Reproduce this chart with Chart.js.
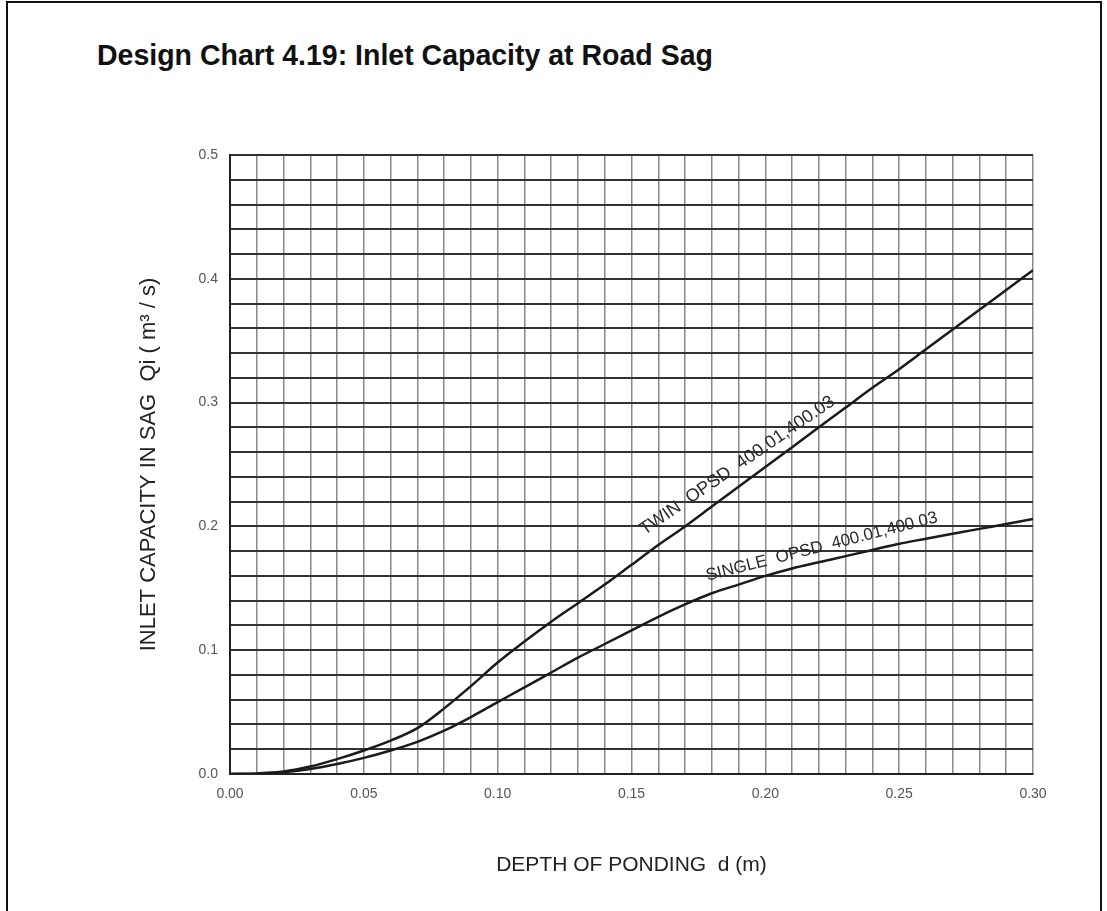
<!DOCTYPE html>
<html>
<head>
<meta charset="utf-8">
<script src="https://cdn.jsdelivr.net/npm/chart.js@4.4.1/dist/chart.umd.min.js"></script>
<style>
  html, body { margin: 0; padding: 0; background: #fff; }
  #page { position: relative; width: 1107px; height: 911px; overflow: hidden; }
  #frame {
    position: absolute; left: 6px; top: 1px; width: 1092px; height: 920px;
    border: 2px solid #111; border-bottom: none;
  }
  #title {
    position: absolute; left: 97px; top: 39px;
    font-family: "Liberation Sans", Arial, sans-serif; font-weight: bold;
    font-size: 29px; color: #111; white-space: nowrap; transform-origin: 0 0;
  }
  canvas { position: absolute; left: 0; top: 0; }
</style>
</head>
<body>
<div id="page">
  <div id="frame"></div>
  <div id="title">Design Chart 4.19: Inlet Capacity at Road Sag</div>
  <canvas id="chart" width="1107" height="911"></canvas>
</div>
<script>
// depth of ponding d (m)
const depth = [0.00, 0.01, 0.02, 0.03, 0.04, 0.05, 0.06, 0.07, 0.08, 0.09, 0.10,
  0.11, 0.12, 0.13, 0.14, 0.15, 0.16, 0.17, 0.18, 0.19, 0.20,
  0.21, 0.22, 0.23, 0.24, 0.25, 0.26, 0.27, 0.28, 0.29, 0.30];

// inlet capacity Qi (m3/s), twin grate
const twinFlow = [0, 0.0005, 0.002, 0.006, 0.012, 0.019, 0.027, 0.037, 0.053, 0.071, 0.090,
  0.107, 0.123, 0.138, 0.153, 0.169, 0.185, 0.200, 0.216, 0.232, 0.248,
  0.264, 0.280, 0.296, 0.312, 0.327, 0.343, 0.359, 0.375, 0.391, 0.407];

// inlet capacity Qi (m3/s), single grate
const singleFlow = [0, 0.0003, 0.0015, 0.004, 0.008, 0.013, 0.019, 0.026, 0.035, 0.046, 0.058,
  0.070, 0.082, 0.094, 0.105, 0.116, 0.127, 0.137, 0.146, 0.153, 0.160,
  0.166, 0.171, 0.176, 0.181, 0.186, 0.190, 0.194, 0.198, 0.202, 0.206];

// curve labels: text, anchor (data units), angle in degrees, font size
const curveLabels = [
  { text: "TWIN  OPSD  400.01,400.03", x: 0.1895, y: 0.2490, angle: -34.5, size: 18 },
  { text: "SINGLE  OPSD  400.01,400.03", x: 0.2211, y: 0.1835, angle: -14.3, size: 17 }
];

// squeeze the title to the width it has in the scan
const titleEl = document.getElementById("title");
titleEl.style.transform = "scaleX(" + (616 / titleEl.offsetWidth) + ")";

const labelFont = '"Liberation Sans", Arial, sans-serif';

// draws the text written along each curve
const curveLabelPlugin = {
  id: "curveLabels",
  afterDatasetsDraw(chart) {
    const ctx = chart.ctx;
    const xs = chart.scales.x;
    const ys = chart.scales.y;
    ctx.save();
    ctx.fillStyle = "#2a2a2a";
    ctx.textAlign = "center";
    ctx.textBaseline = "middle";
    curveLabels.forEach(l => {
      ctx.save();
      ctx.font = l.size + "px " + labelFont;
      ctx.translate(xs.getPixelForValue(l.x), ys.getPixelForValue(l.y));
      ctx.rotate(l.angle * Math.PI / 180);
      ctx.fillText(l.text, 0, 0);
      ctx.restore();
    });
    ctx.restore();
  }
};

const ctx = document.getElementById("chart").getContext("2d");

new Chart(ctx, {
  type: "line",
  data: {
    datasets: [
      {
        label: "Twin OPSD 400.01, 400.03",
        data: depth.map((d, i) => ({ x: d, y: twinFlow[i] })),
        borderColor: "#1a1a1a",
        borderWidth: 2.5,
        pointRadius: 0,
        cubicInterpolationMode: "monotone",
        fill: false,
      },
      {
        label: "Single OPSD 400.01, 400.03",
        data: depth.map((d, i) => ({ x: d, y: singleFlow[i] })),
        borderColor: "#1a1a1a",
        borderWidth: 2.5,
        pointRadius: 0,
        cubicInterpolationMode: "monotone",
        fill: false,
      },
    ],
  },
  options: {
    responsive: false,
    animation: false,
    devicePixelRatio: 1,
    layout: {
      padding: { left: 130, top: 155, right: 74, bottom: 30 },
    },
    scales: {
      x: {
        type: "linear",
        min: 0,
        max: 0.3,
        afterFit: (scale) => { scale.height = 107; },
        grid: { color: "#8a8a8a", lineWidth: 1.5, drawTicks: false },
        border: { color: "#222", width: 2 },
        ticks: {
          stepSize: 0.01,
          autoSkip: false,
          maxRotation: 0,
          padding: 12,
          color: "#555",
          font: { family: labelFont, size: 14 },
          callback: (v) => (Math.round(v * 100) % 5 === 0 ? v.toFixed(2) : ""),
        },
        title: {
          display: true,
          text: "DEPTH OF PONDING  d (m)",
          color: "#222",
          font: { family: labelFont, size: 21 },
          padding: { top: 0, bottom: 3 },
        },
      },
      y: {
        type: "linear",
        min: 0,
        max: 0.5,
        afterFit: (scale) => { scale.width = 100; },
        grid: { color: "#333", lineWidth: 2, drawTicks: false },
        border: { color: "#222", width: 2 },
        ticks: {
          stepSize: 0.02,
          autoSkip: false,
          padding: 12,
          color: "#555",
          font: { family: labelFont, size: 14 },
          callback: (v) => (Math.round(v * 100) % 10 === 0 ? v.toFixed(1) : ""),
        },
        title: {
          display: true,
          text: "INLET CAPACITY IN SAG  Qi ( m\u00B3 / s)",
          color: "#222",
          font: { family: labelFont, size: 22 },
          padding: { top: 6, bottom: 0 },
        },
      },
    },
    plugins: {
      legend: { display: false },
      tooltip: { enabled: false },
    },
  },
  plugins: [curveLabelPlugin],
});
</script>
</body>
</html>
